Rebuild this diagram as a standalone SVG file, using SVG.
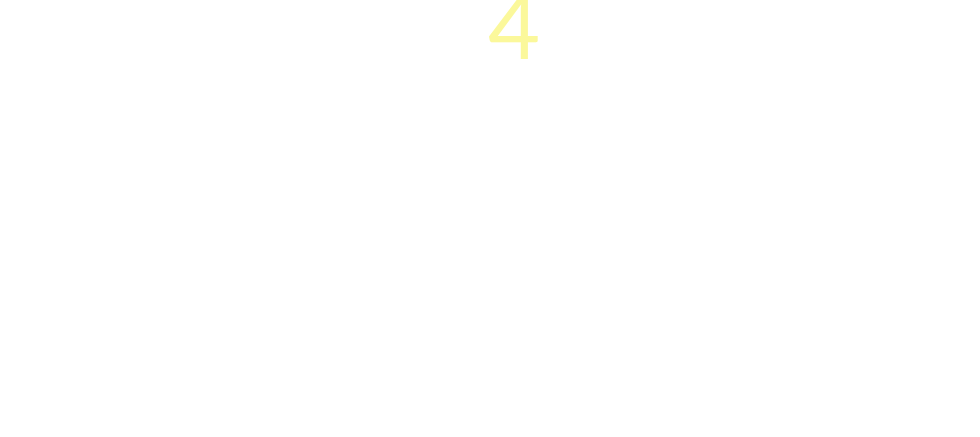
<svg xmlns="http://www.w3.org/2000/svg" width="980" height="437" viewBox="0 0 980 437"><style>.n{font-family:Lato,"Liberation Sans",sans-serif;font-weight:400;fill:#fbf89b}</style><rect width="980" height="437" fill="#ffffff"/><g id="node-4"><text class="n" x="514" y="59" font-size="90" text-anchor="middle">4</text></g><g id="connectors"/></svg>
